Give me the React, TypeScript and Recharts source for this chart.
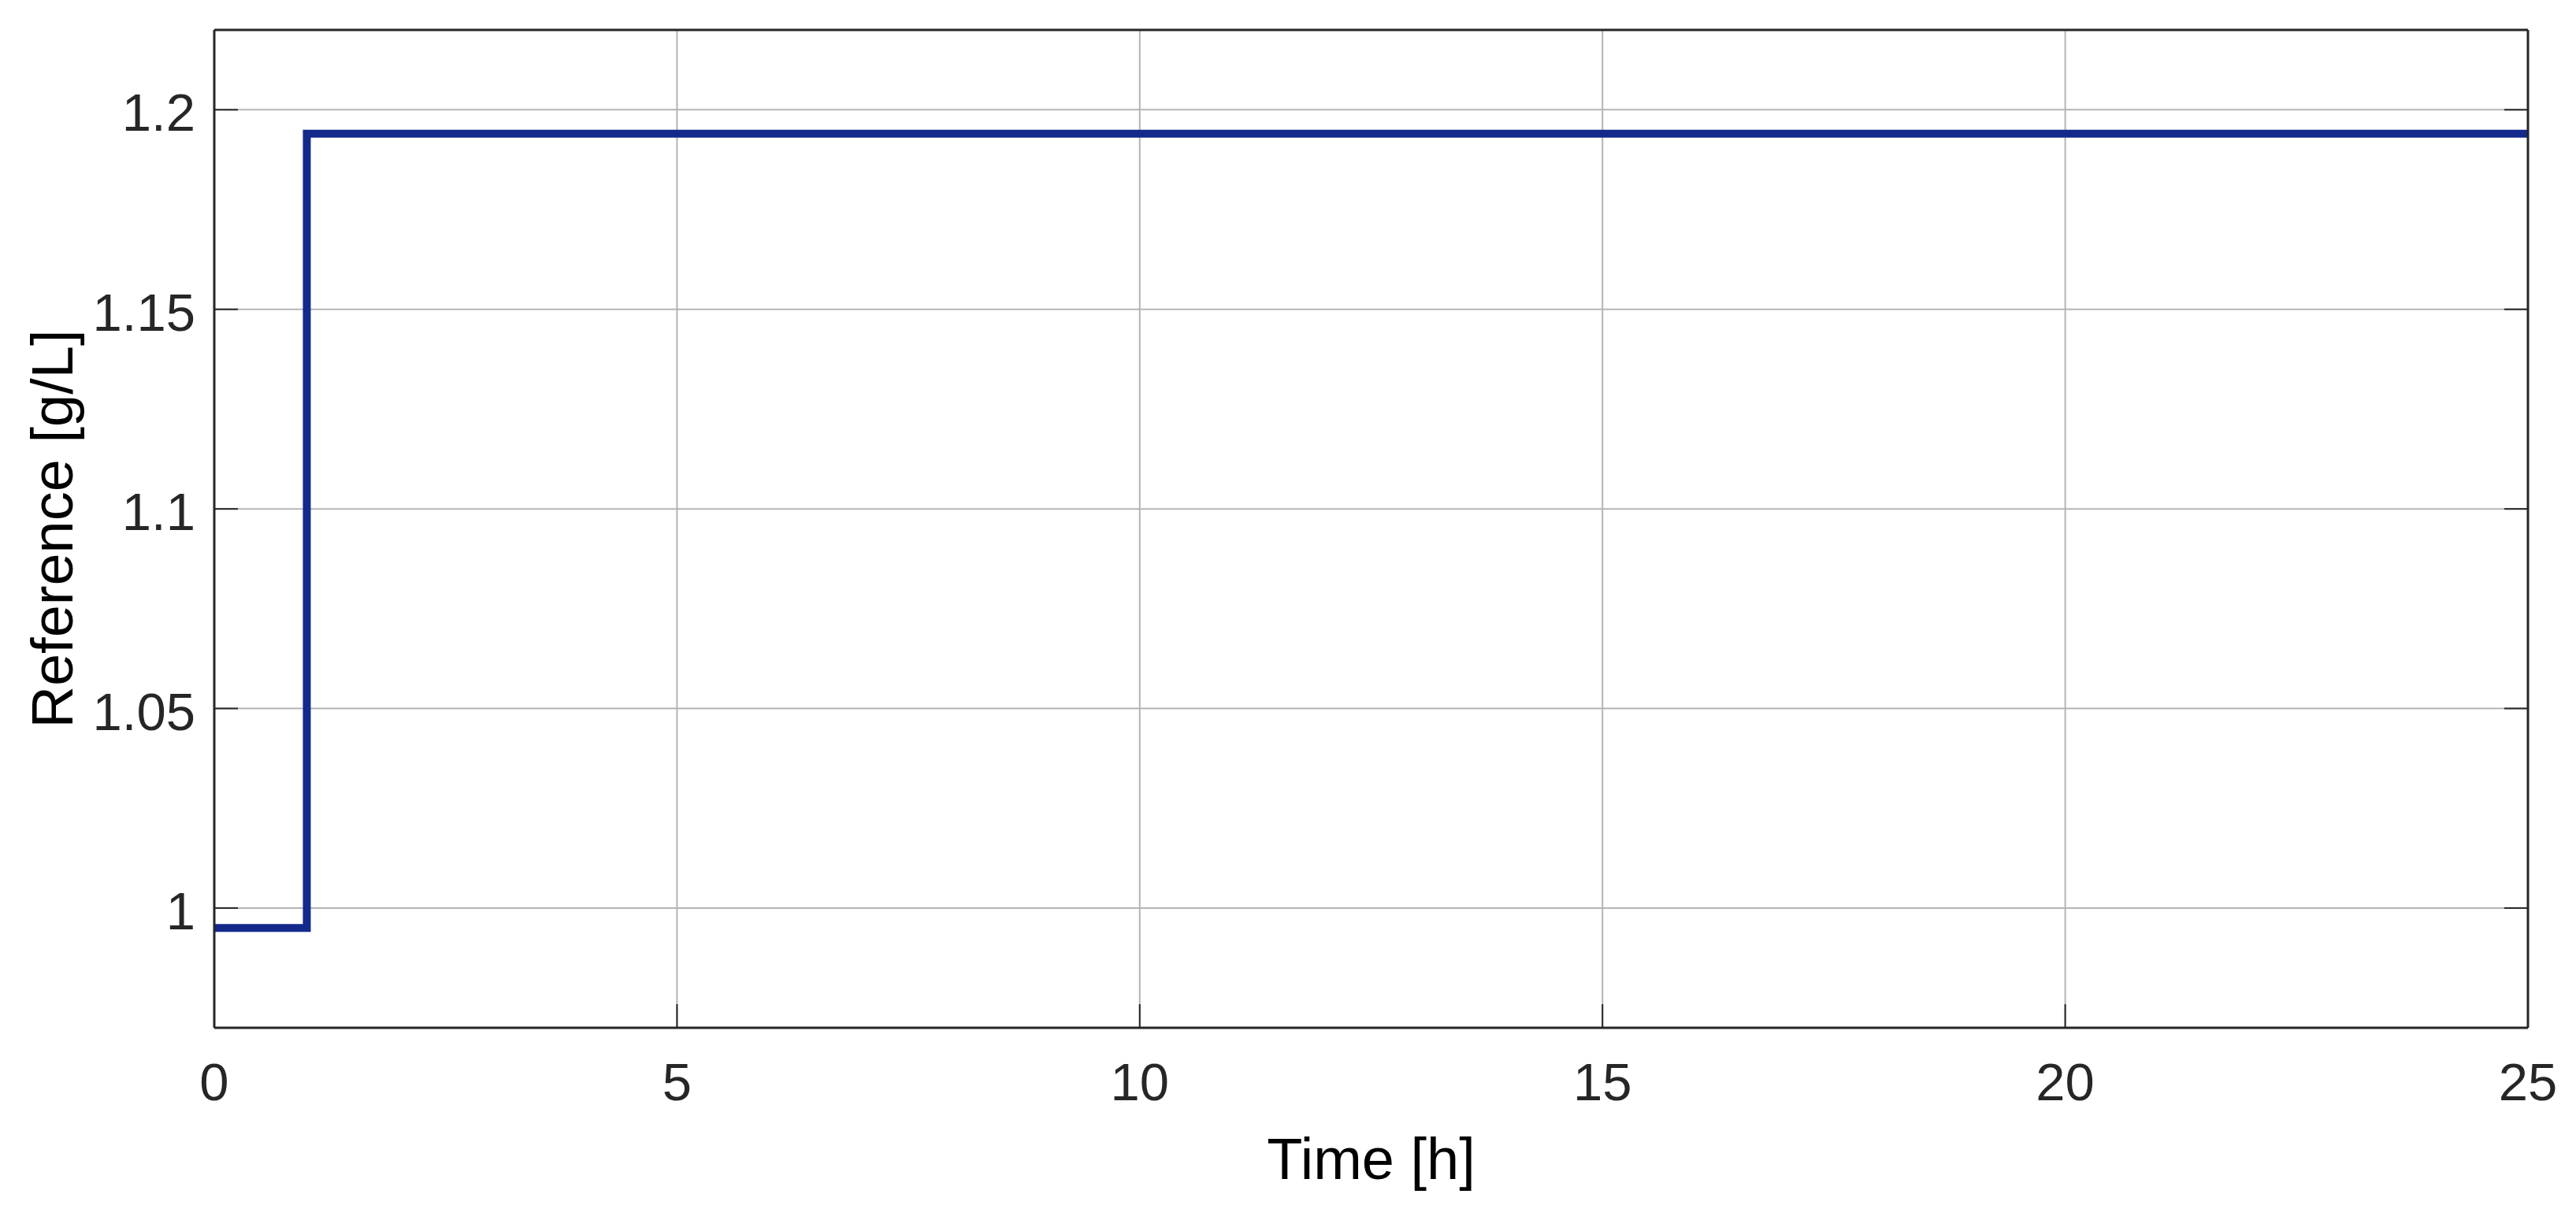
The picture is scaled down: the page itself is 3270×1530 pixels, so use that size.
import { LineChart, Line, XAxis, YAxis, CartesianGrid, Label } from "recharts";

// step reference signal
const time = [0, 1, 25];
const reference = [0.995, 1.194, 1.194];

const xTicks = [0, 5, 10, 15, 20, 25];
const yTicks = [1, 1.05, 1.1, 1.15, 1.2];
const xDomain = [0, 25];
const yDomain = [0.97, 1.22];

const data = time.map((t, i) => ({ time: t, ref: reference[i] }));

const FONT = "'Liberation Sans', Arial, Helvetica, sans-serif";
const AXIS = "#262626";
const TICK_LEN = 30;
const TICK_FONT = 67;
const LABEL_FONT = 74;

const BottomTick = (props: any) => {
  const { x, y, payload } = props;
  return (
    <g>
      <line x1={x} y1={y} x2={x} y2={y - TICK_LEN} stroke={AXIS} strokeWidth={2} />
      <text x={x} y={y + 92} textAnchor="middle" fontFamily={FONT} fontSize={TICK_FONT} fill={AXIS}>
        {payload.value}
      </text>
    </g>
  );
};

const TopTick = (props: any) => {
  const { x, y } = props;
  return <line x1={x} y1={y} x2={x} y2={y + TICK_LEN} stroke={AXIS} strokeWidth={2} />;
};

const LeftTick = (props: any) => {
  const { x, y, payload } = props;
  return (
    <g>
      <line x1={x} y1={y} x2={x + TICK_LEN} y2={y} stroke={AXIS} strokeWidth={2} />
      <text x={x - 24} y={y + 27} textAnchor="end" fontFamily={FONT} fontSize={TICK_FONT} fill={AXIS}>
        {payload.value}
      </text>
    </g>
  );
};

const RightTick = (props: any) => {
  const { x, y } = props;
  return <line x1={x} y1={y} x2={x - TICK_LEN} y2={y} stroke={AXIS} strokeWidth={2} />;
};

const YLabel = (props: any) => {
  const vb = props.viewBox || {};
  const cx = (vb.x ?? 0) + 92;
  const cy = (vb.y ?? 0) + (vb.height ?? 0) / 2;
  return (
    <text
      x={cx}
      y={cy}
      transform={`rotate(-90, ${cx}, ${cy})`}
      textAnchor="middle"
      fontFamily={FONT}
      fontSize={LABEL_FONT}
      fill="#000"
    >
      Reference [g/L]
    </text>
  );
};

const XLabel = (props: any) => {
  const vb = props.viewBox || {};
  const cx = (vb.x ?? 0) + (vb.width ?? 0) / 2;
  const cy = (vb.y ?? 0) + 192;
  return (
    <text x={cx} y={cy} textAnchor="middle" fontFamily={FONT} fontSize={LABEL_FONT} fill="#000">
      Time [h]
    </text>
  );
};

export default function App() {
  return (
    <div style={{ position: "absolute", left: 0, top: 0, width: 3270, height: 1530, background: "#fff" }}>
      <LineChart width={3270} height={1530} data={data} margin={{ top: 0, right: 0, bottom: 0, left: 0 }}>
        <CartesianGrid stroke="#b4b4b4" strokeWidth={2} />
        <XAxis
          dataKey="time"
          type="number"
          domain={xDomain}
          ticks={xTicks}
          interval={0}
          height={225}
          tickSize={0}
          tickMargin={0}
          tickLine={false}
          axisLine={{ stroke: AXIS, strokeWidth: 3 }}
          tick={<BottomTick />}
        >
          <Label content={<XLabel />} />
        </XAxis>
        <XAxis
          xAxisId="top"
          orientation="top"
          type="number"
          domain={xDomain}
          allowDataOverflow
          ticks={xTicks}
          interval={0}
          height={38}
          tickSize={0}
          tickMargin={0}
          tickLine={false}
          axisLine={{ stroke: AXIS, strokeWidth: 3 }}
          tick={<TopTick />}
        />
        <YAxis
          type="number"
          domain={yDomain}
          allowDataOverflow
          ticks={yTicks}
          interval={0}
          width={272}
          tickSize={0}
          tickMargin={0}
          tickLine={false}
          axisLine={{ stroke: AXIS, strokeWidth: 3 }}
          tick={<LeftTick />}
        >
          <Label content={<YLabel />} />
        </YAxis>
        <YAxis
          yAxisId="right"
          orientation="right"
          type="number"
          domain={yDomain}
          allowDataOverflow
          ticks={yTicks}
          interval={0}
          width={61}
          tickSize={0}
          tickMargin={0}
          tickLine={false}
          axisLine={{ stroke: AXIS, strokeWidth: 3 }}
          tick={<RightTick />}
        />
        <Line
          dataKey="ref"
          type="stepAfter"
          stroke="#13298b"
          strokeWidth={10}
          dot={false}
          activeDot={false}
          isAnimationActive={false}
        />
      </LineChart>
    </div>
  );
}
